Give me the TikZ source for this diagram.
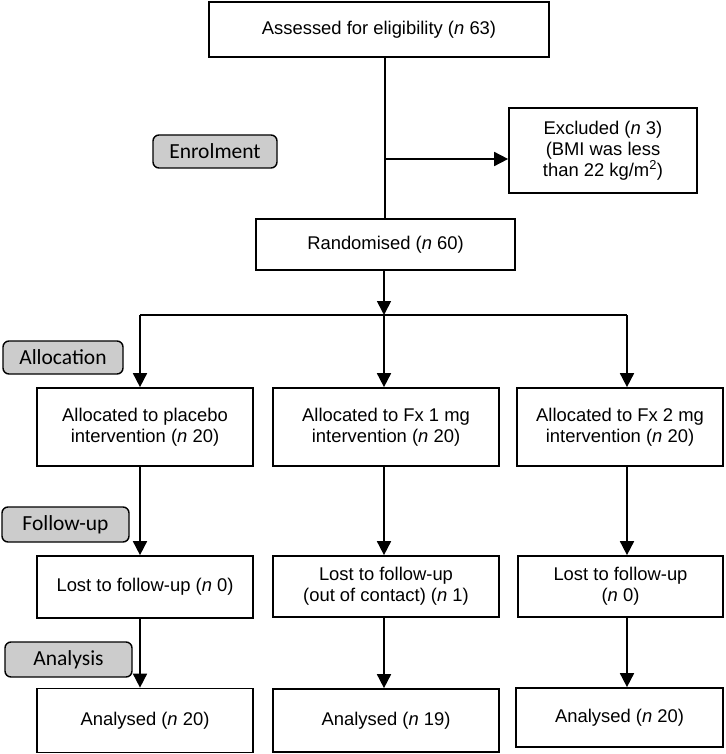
\documentclass[tikz,border=0pt]{standalone}
\usepackage{fontspec}
\setmainfont{Liberation Sans}
\newfontfamily\stagefont{Carlito}
\usetikzlibrary{arrows.meta}
\newcommand{\nn}{\textit{n}}

\begin{document}
\begin{tikzpicture}[x=1pt, y=-1pt,
    box/.style={draw, line width=1.7pt, fill=white, align=center, inner sep=0pt,
        font=\fontsize{18.4}{20.8}\selectfont},
    stage/.style={draw, line width=1.4pt, fill=gray!40, rounded corners=6pt, inner sep=0pt,
        font=\stagefont\fontsize{21.5}{24}\selectfont},
    flow/.style={line width=1.7pt, -{Triangle[width=14pt,length=14pt]}},
    link/.style={line width=1.7pt}]

    \useasboundingbox (0,0) rectangle (725,754);

    \node[box, minimum width=340pt, minimum height=55pt] (assess) at (379,29.5) {Assessed for eligibility (\nn{} 63)};
    \node[box, minimum width=188pt, minimum height=85pt] (excl) at (603,150.5) {Excluded (\nn{} 3)\\(BMI was less\\than 22 kg/m\textsuperscript{2})};
    \node[box, minimum width=259pt, minimum height=51pt] (rand) at (385.5,244.5) {Randomised (\nn{} 60)};

    \node[box, minimum width=216pt, minimum height=78pt] (alloc1) at (145,427) {Allocated to placebo\\intervention (\nn{} 20)};
    \node[box, minimum width=226pt, minimum height=78pt] (alloc2) at (386,427) {Allocated to Fx 1 mg\\intervention (\nn{} 20)};
    \node[box, minimum width=206pt, minimum height=78pt] (alloc3) at (620,427) {Allocated to Fx 2 mg\\intervention (\nn{} 20)};

    \node[box, minimum width=216pt, minimum height=62pt] (lost1) at (145,587) {Lost to follow-up (\nn{} 0)};
    \node[box, minimum width=226pt, minimum height=61pt] (lost2) at (386,586.5) {Lost to follow-up\\(out of contact) (\nn{} 1)};
    \node[box, minimum width=205pt, minimum height=61pt] (lost3) at (620.5,586.5) {Lost to follow-up\\(\nn{} 0)};

    \node[box, minimum width=216pt, minimum height=64pt] (an1) at (145,720.5) {Analysed (\nn{} 20)};
    \node[box, minimum width=226pt, minimum height=63pt] (an2) at (386,720.5) {Analysed (\nn{} 19)};
    \node[box, minimum width=207pt, minimum height=59pt] (an3) at (619.5,717.5) {Analysed (\nn{} 20)};

    \node[stage, minimum width=124pt, minimum height=33pt] (enrol) at (215,151.5) {Enrolment};
    \node[stage, minimum width=120pt, minimum height=33pt] (allocation) at (63,357.5) {Allocation};
    \node[stage, minimum width=127pt, minimum height=35pt] (follow) at (65.5,524.5) {Follow-up};
    \node[stage, minimum width=127pt, minimum height=35pt] (analysis) at (68.5,659.5) {Analysis};

    \coordinate (jn) at (385,159);
    \coordinate (split) at (384,315);
    \coordinate (cl) at (140,315);
    \coordinate (cr) at (627,315);

    \draw[link] (assess.south -| jn) -- (rand.north -| jn);
    \draw[flow] (jn) -- (excl.west |- jn);
    \draw[flow] (rand.south -| split) -- (split);
    \draw[link] (cl) -- (cr);

    \draw[flow] (cl) -- (alloc1.north -| cl);
    \draw[flow] (split) -- (alloc2.north -| split);
    \draw[flow] (cr) -- (alloc3.north -| cr);

    \draw[flow] (alloc1.south -| cl) -- (lost1.north -| cl);
    \draw[flow] (alloc2.south -| split) -- (lost2.north -| split);
    \draw[flow] (alloc3.south -| cr) -- (lost3.north -| cr);

    \draw[flow] (lost1.south -| cl) -- (an1.north -| cl);
    \draw[flow] (lost2.south -| split) -- (an2.north -| split);
    \draw[flow] (lost3.south -| cr) -- (an3.north -| cr);

\end{tikzpicture}
\end{document}
